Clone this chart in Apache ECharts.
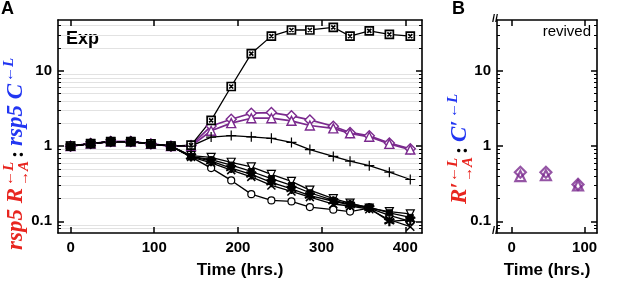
<!DOCTYPE html>
<html>
<head>
<meta charset="utf-8">
<script src="https://cdn.jsdelivr.net/npm/echarts@6/dist/echarts.min.js"></script>
<style>
html,body{margin:0;padding:0;background:#fff}
#chart{width:617px;height:284px}
</style>
</head>
<body>
<div id="chart"></div>
<script>
// panel A: time points (hrs.)
const timeA = [0, 24, 48, 72, 96, 120, 144, 168, 192, 216, 240, 264, 286, 314, 334, 357, 381, 406];
const squareX  = [1.0, 1.08, 1.15, 1.15, 1.07, 1.0, 1.03, 2.2, 6.2, 17, 29, 35, 35, 38, 29, 34, 30.5, 29];
const diamondP = [1.0, 1.08, 1.15, 1.15, 1.07, 1.0, 1.02, 1.85, 2.28, 2.74, 2.79, 2.53, 2.23, 1.84, 1.52, 1.37, 1.1, 0.92];
const triP     = [1.0, 1.08, 1.15, 1.15, 1.07, 1.0, 1.0, 1.6, 2.02, 2.35, 2.35, 2.17, 1.88, 1.72, 1.48, 1.33, 1.07, 0.9];
const plusK    = [1.0, 1.08, 1.15, 1.15, 1.07, 1.0, 1.0, 1.32, 1.38, 1.33, 1.27, 1.12, 0.9, 0.73, 0.63, 0.55, 0.45, 0.36];
const downTri  = [1.0, 1.08, 1.15, 1.15, 1.07, 1.0, 0.75, 0.71, 0.61, 0.53, 0.42, 0.34, 0.26, 0.2, 0.175, 0.15, 0.135, 0.126];
const starK    = [1.0, 1.08, 1.15, 1.15, 1.07, 1.0, 0.73, 0.63, 0.51, 0.42, 0.33, 0.27, 0.22, 0.185, 0.165, 0.15, 0.1, 0.105];
const crossK   = [1.0, 1.08, 1.15, 1.15, 1.07, 1.0, 0.72, 0.6, 0.48, 0.39, 0.3, 0.25, 0.21, 0.17, 0.16, 0.145, 0.105, 0.085];
const squareK  = [1.0, 1.08, 1.15, 1.15, 1.07, 1.0, 0.73, 0.66, 0.56, 0.46, 0.37, 0.3, 0.24, 0.19, 0.17, 0.155, 0.13, 0.113];
const circleK  = [1.0, 1.08, 1.15, 1.15, 1.07, 1.0, 0.72, 0.51, 0.35, 0.23, 0.19, 0.184, 0.155, 0.143, 0.135, 0.15, 0.12, 0.1];

// panel B: revived
const timeB = [12, 47, 91];
const diamondB = [0.45, 0.45, 0.31];
const triB = [0.4, 0.41, 0.3];

// ticks
const xTicksA = [0, 100, 200, 300, 400];
const xTicksB = [0, 100];
const yMajor = [0.1, 1, 10];
const yMinor = [0.08, 0.09, 0.2, 0.3, 0.4, 0.5, 0.6, 0.7, 0.8, 0.9, 2, 3, 4, 5, 6, 7, 8, 9, 20, 30, 40];

const PURPLE = '#7b2a8e';
const RED = '#e8251f';
const BLUE = '#2236f2';
const labelFont = { color: '#000', fontWeight: 'bold', fontSize: 15, fontFamily: 'Liberation Sans' };

function xAx(grid, min, max, ticks, pos, withLabel) {
  const ax = {
    type: 'value', gridIndex: grid, min: min, max: max, position: pos,
    axisLine: { onZero: false, lineStyle: { color: '#000', width: 1.6 } },
    axisTick: { inside: true, length: 6, customValues: ticks, lineStyle: { color: '#000', width: 1.5 } },
    axisLabel: { show: withLabel, customValues: ticks, margin: 7, ...labelFont },
    splitLine: { show: false }
  };
  if (withLabel) {
    ax.name = 'Time (hrs.)';
    ax.nameLocation = 'middle';
    ax.nameGap = 29;
    ax.nameTextStyle = { color: '#000', fontWeight: 'bold', fontSize: 17, fontFamily: 'Liberation Sans' };
  }
  return ax;
}

function yAx(grid, pos, major, withLabel, grids) {
  return {
    type: 'log', logBase: 10, gridIndex: grid, min: 0.07, max: 47.5, position: pos,
    axisLine: { show: major, onZero: false, lineStyle: { color: '#000', width: 1.6 } },
    axisTick: { inside: true, length: major ? 6 : 3, customValues: major ? yMajor : yMinor,
      lineStyle: { color: '#000', width: major ? 1.5 : 1 } },
    axisLabel: { show: withLabel, customValues: yMajor, margin: 6, ...labelFont },
    splitLine: { show: grids, lineStyle: { color: '#e2e2e2', width: 1 } }
  };
}

function lineSeries(data, symbol, size, color, fill, bw, extra) {
  return Object.assign({
    type: 'line', xAxisIndex: 0, yAxisIndex: 0,
    data: timeA.map((t, i) => [t, data[i]]),
    symbol: symbol, symbolSize: size, showAllSymbol: true,
    lineStyle: { color: color, width: 1.3 },
    itemStyle: { color: fill, borderColor: color, borderWidth: bw },
    emphasis: { disabled: true }, z: 3
  }, extra || {});
}

function axisTitle(x0, y0, parts) {
  return {
    type: 'group', x: x0, y: y0, rotation: Math.PI / 2,
    children: parts.map(p => ({
      type: 'text', x: p.x, y: p.y || 0,
      style: { text: p.t, fill: p.c, font: p.f, align: 'left', verticalAlign: 'bottom',
        textAlign: 'left', textVerticalAlign: 'bottom' }
    }))
  };
}

const big = 'italic bold 23px "Liberation Serif"';
const sm = 'italic bold 15px "Liberation Serif"';
const colonF = 'bold 22px "Liberation Serif"';

const chart = echarts.init(document.getElementById('chart'), null, { renderer: 'canvas' });
const option = {
  animation: false,
  backgroundColor: '#fff',
  grid: [
    { left: 58, right: 195, top: 20, bottom: 51 },
    { left: 497, right: 20, top: 20, bottom: 51 }
  ],
  xAxis: [
    xAx(0, -15, 420, xTicksA, 'bottom', true),
    xAx(0, -15, 420, xTicksA, 'top', false),
    xAx(1, -20, 117, xTicksB, 'bottom', true),
    xAx(1, -20, 117, xTicksB, 'top', false)
  ],
  yAxis: [
    yAx(0, 'left', true, true, false),
    yAx(0, 'left', false, false, true),
    yAx(0, 'right', true, false, false),
    yAx(0, 'right', false, false, false),
    yAx(1, 'left', true, true, false),
    yAx(1, 'left', false, false, false),
    yAx(1, 'right', true, false, false),
    yAx(1, 'right', false, false, false)
  ],
  series: [
    lineSeries(diamondP, 'diamond', 10, PURPLE, '#fff', 1.4, { lineStyle: { color: PURPLE, width: 1.7 } }),
    lineSeries(triP, 'triangle', 9, PURPLE, '#fff', 1.4, { lineStyle: { color: PURPLE, width: 1.7 } }),
    lineSeries(squareX, 'path://M0,0L10,0L10,10L0,10Z M2.5,2.5L7.5,7.5 M7.5,2.5L2.5,7.5', 8, '#000', '#fff', 1.7),
    lineSeries(circleK, 'circle', 7, '#000', '#fff', 1.2),
    lineSeries(plusK, 'path://M0,5L10,5M5,0L5,10', 10, '#000', '#000', 1.2),
    lineSeries(downTri, 'triangle', 8, '#000', '#fff', 1.2, { symbolRotate: 180 }),
    lineSeries(squareK, 'rect', 6, '#000', '#000', 1),
    lineSeries(crossK, 'path://M0,0L10,10M10,0L0,10', 8, '#000', '#000', 1.5),
    lineSeries(starK, 'path://M5,0L5,10M0.7,2.5L9.3,7.5M9.3,2.5L0.7,7.5', 10, '#000', '#000', 2.2),
    {
      type: 'scatter', xAxisIndex: 2, yAxisIndex: 4,
      data: timeB.map((t, i) => [t, triB[i]]),
      symbol: 'triangle', symbolSize: 10,
      itemStyle: { color: '#fff', borderColor: PURPLE, borderWidth: 2.2 }, emphasis: { disabled: true }
    },
    {
      type: 'scatter', xAxisIndex: 2, yAxisIndex: 4,
      data: timeB.map((t, i) => [t, diamondB[i]]),
      symbol: 'diamond', symbolSize: 11,
      itemStyle: { color: 'rgba(255,255,255,0)', borderColor: PURPLE, borderWidth: 2.2 }, emphasis: { disabled: true }
    }
  ],
  graphic: [
    { type: 'text', x: 1, y: 0, style: { text: 'A', font: 'bold 18px "Liberation Sans"', fill: '#000' } },
    { type: 'text', x: 452, y: 0, style: { text: 'B', font: 'bold 18px "Liberation Sans"', fill: '#000' } },
    { type: 'text', x: 66, y: 30, style: { text: 'Exp', font: 'bold 18px "Liberation Sans"', fill: '#000' } },
    { type: 'text', x: 591, y: 24, style: { text: 'revived', font: '15px "Liberation Sans"', fill: '#000', align: 'right', textAlign: 'right' } },
    { type: 'text', x: 492, y: 13, style: { text: '//', font: 'bold 11px "Liberation Sans"', fill: '#000', backgroundColor: '#fff' } },
    { type: 'text', x: 492, y: 225, style: { text: '//', font: 'bold 11px "Liberation Sans"', fill: '#000', backgroundColor: '#fff' } },
    axisTitle(28, 250, [
      { x: 0, t: 'rsp5 R', c: RED, f: big },
      { x: 64, y: -11, t: '\u2190L', c: RED, f: sm },
      { x: 64, y: 4, t: '\u2192A', c: RED, f: sm },
      { x: 92, t: ':', c: '#000', f: colonF },
      { x: 104, t: 'rsp5 C', c: BLUE, f: big },
      { x: 168, y: -11, t: '\u2190L', c: BLUE, f: sm }
    ]),
    axisTitle(472, 204, [
      { x: 0, t: 'R\u2032', c: RED, f: big },
      { x: 22, y: -11, t: '\u2190L', c: RED, f: sm },
      { x: 22, y: 4, t: '\u2192A', c: RED, f: sm },
      { x: 50, t: ':', c: '#000', f: colonF },
      { x: 62, t: 'C\u2032', c: BLUE, f: big },
      { x: 86, y: -11, t: '\u2190L', c: BLUE, f: sm }
    ])
  ]
};
chart.setOption(option);
</script>
</body>
</html>
